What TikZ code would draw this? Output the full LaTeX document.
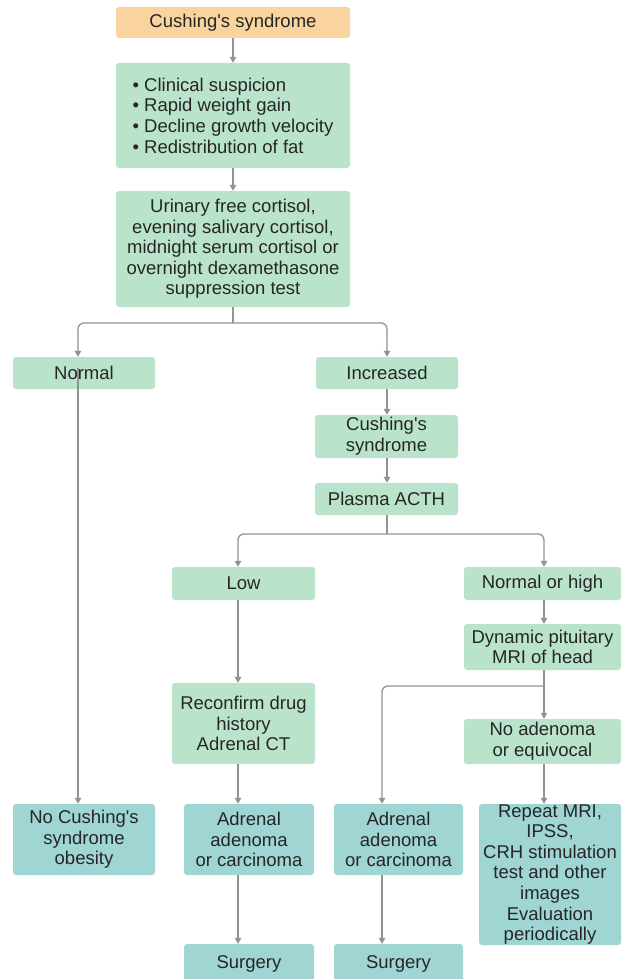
\documentclass[tikz,border=0pt]{standalone}
\usepackage{fontspec}
\setmainfont{Liberation Sans}
\usetikzlibrary{arrows.meta}
\definecolor{gfill}{HTML}{BAE3CC}
\definecolor{tfill}{HTML}{9FD5D3}
\definecolor{ofill}{HTML}{FAD49E}
\definecolor{lcol}{HTML}{929292}
\definecolor{tcol}{HTML}{262626}
\newcommand{\ap}{\textquotesingle}
\begin{document}
\begin{tikzpicture}[x=1pt,y=-1pt,
  box/.style={rectangle, rounded corners=3pt, inner sep=0pt, align=center,
    text=tcol, font=\fontsize{18.5}{20.6}\selectfont},
  gbox/.style={box, fill=gfill},
  tbox/.style={box, fill=tfill},
  obox/.style={box, fill=ofill},
  arr/.style={draw=lcol, line width=1.3pt, rounded corners=6pt,
    -{Triangle[width=6.5pt,length=6pt]}},
  ln/.style={draw=lcol, line width=1.3pt, rounded corners=6pt}]
\useasboundingbox[fill=white] (0,0) rectangle (626,979);
% nodes
\node[obox, minimum width=234pt, minimum height=31pt] (top) at (233,22.5) {Cushing\ap s syndrome};
\node[gbox, minimum width=234pt, minimum height=105pt, align=left] (sym) at (233,115.5)
  {• Clinical suspicion\\• Rapid weight gain\\• Decline growth velocity\\• Redistribution of fat};
\node[gbox, minimum width=234pt, minimum height=116pt] (test) at (233,249)
  {Urinary free cortisol,\\evening salivary cortisol,\\midnight serum cortisol or\\overnight dexamethasone\\suppression test};
\node[gbox, minimum width=142pt, minimum height=32pt] (normal) at (84,373) {Normal};
\node[gbox, minimum width=142pt, minimum height=32pt] (incr) at (387,373) {Increased};
\node[gbox, minimum width=143pt, minimum height=43pt] (cs2) at (386.5,436.5) {Cushing\ap s\\syndrome};
\node[gbox, minimum width=143pt, minimum height=32pt] (acth) at (386.5,499) {Plasma ACTH};
\node[gbox, minimum width=143pt, minimum height=33pt] (low) at (243.5,583.5) {Low};
\node[gbox, minimum width=157pt, minimum height=33pt] (noh) at (542.5,583.5) {Normal or high};
\node[gbox, minimum width=157pt, minimum height=46pt] (dyn) at (542.5,647) {Dynamic pituitary\\MRI of head};
\node[gbox, minimum width=143pt, minimum height=81pt] (recon) at (243.5,723.5) {Reconfirm drug\\history\\Adrenal CT};
\node[gbox, minimum width=157pt, minimum height=45pt] (noad) at (542.5,741.5) {No adenoma\\or equivocal};
\node[tbox, minimum width=142pt, minimum height=71pt] (nocush) at (84,839.5) {No Cushing\ap s\\syndrome\\obesity};
\node[tbox, minimum width=130pt, minimum height=71pt] (ad1) at (249,839.5) {Adrenal\\adenoma\\or carcinoma};
\node[tbox, minimum width=129pt, minimum height=71pt] (ad2) at (398.5,839.5) {Adrenal\\adenoma\\or carcinoma};
\node[tbox, minimum width=142pt, minimum height=141pt] (rep) at (550,874.5)
  {Repeat MRI,\\IPSS,\\CRH stimulation\\test and other\\images\\Evaluation\\periodically};
\node[tbox, minimum width=130pt, minimum height=40pt] (surg1) at (249,964) {Surgery};
\node[tbox, minimum width=129pt, minimum height=40pt] (surg2) at (398.5,964) {Surgery};
% line positions
\coordinate (xm) at (233,0);
\coordinate (xn) at (78,0);
\coordinate (xi) at (387,0);
\coordinate (xl) at (238,0);
\coordinate (xh) at (544,0);
\coordinate (xa) at (382,0);
\coordinate (y1) at (0,323);
\coordinate (y2) at (0,534);
\coordinate (y3) at (0,686);
% connectors
\draw[arr] (top.south -| xm) -- (sym.north -| xm);
\draw[arr] (sym.south -| xm) -- (test.north -| xm);
\draw[ln] (test.south -| xm) -- (xm |- y1);
\draw[arr] (xm |- y1) -- (xn |- y1) -- (normal.north -| xn);
\draw[arr] (xm |- y1) -- (xi |- y1) -- (incr.north -| xi);
\draw[arr] ([yshift=5pt]normal.center -| xn) -- (nocush.north -| xn);
\draw[arr] (incr.south -| xi) -- (cs2.north -| xi);
\draw[arr] (cs2.south -| xi) -- (acth.north -| xi);
\draw[ln] (acth.south -| xi) -- (xi |- y2);
\draw[arr] (xi |- y2) -- (xl |- y2) -- (low.north -| xl);
\draw[arr] (xi |- y2) -- (xh |- y2) -- (noh.north -| xh);
\draw[arr] (low.south -| xl) -- (recon.north -| xl);
\draw[arr] (noh.south -| xh) -- (dyn.north -| xh);
\draw[ln] (dyn.south -| xh) -- (xh |- y3);
\draw[arr] (xh |- y3) -- (xa |- y3) -- (ad2.north -| xa);
\draw[arr] (xh |- y3) -- (noad.north -| xh);
\draw[arr] (recon.south -| xl) -- (ad1.north -| xl);
\draw[arr] (noad.south -| xh) -- (rep.north -| xh);
\draw[arr] (ad1.south -| xl) -- (surg1.north -| xl);
\draw[arr] (ad2.south -| xa) -- (surg2.north -| xa);
\end{tikzpicture}
\end{document}
